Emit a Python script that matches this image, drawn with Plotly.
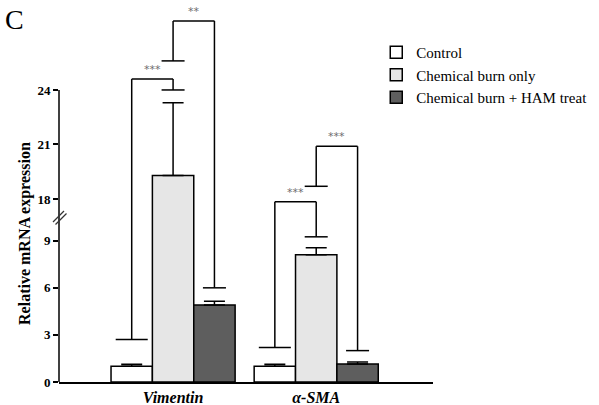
import plotly.graph_objects as go

# ---------------- data ----------------
genes = ["Vimentin", "α-SMA"]
groups = ["Control", "Chemical burn only", "Chemical burn + HAM treat"]
control_mean = [1.0, 1.0]
control_err = [0.13, 0.13]
burn_mean = [19.3, 8.1]
burn_err = [4.0, 0.45]
ham_mean = [4.9, 1.15]
ham_err = [0.25, 0.13]

lower_ticks = [0, 3, 6, 9]
upper_ticks = [18, 21, 24]

# significance brackets
bracket_gene = [0, 0, 1, 1]
bracket_left = [0, 1, 0, 1]        # group index of left leg
bracket_right = [1, 2, 1, 2]       # group index of right leg
bracket_left_end = [2.7, 25.6, 2.2, 18.7]
bracket_right_end = [24.0, 6.0, 9.25, 2.0]
bracket_top = [24.6, 27.8, 17.85, 20.9]
bracket_label = ["***", "**", "***", "***"]

# ---------------- styling / layout constants ----------------
means = [control_mean, burn_mean, ham_mean]
errs = [control_err, burn_err, ham_err]
fills = ["#ffffff", "#e6e6e6", "#5e5e5e"]
FONT = "Liberation Serif"

W, H = 599, 405
PL, PR, PT, PB = 59, 432.7, 10, 382   # plot area pixel edges
BREAK_PX = 215
LOW_RANGE = [0, 10.64]
UP_RANGE = [17.12, 28.40]
X_RANGE = [-0.797, 1.816]
BARGAP = 0.133
bw = (1 - BARGAP) / 3
PX_PER_X = (PR - PL) / (X_RANGE[1] - X_RANGE[0])
low_dom_top = (PB - BREAK_PX) / (PB - PT)


def bar_x(g, i):
    return g + (i - 1) * bw


def yref_for(v):
    return "y" if v <= LOW_RANGE[1] else "y2"


fig = go.Figure()
x_pos = list(range(len(genes)))
for i, name in enumerate(groups):
    for ax, show in (("y", True), ("y2", False)):
        fig.add_trace(go.Bar(
            x=x_pos, y=means[i], name=name, yaxis=ax, xaxis="x",
            showlegend=show, legendgroup=name,
            marker=dict(color=fills[i], line=dict(color="black", width=1.5)),
            error_y=dict(type="data", array=errs[i], arrayminus=[0] * len(genes),
                         symmetric=False, color="black", thickness=1.5, width=10.5),
        ))

shapes = []
line_style = dict(color="black", width=1.5)


def vseg(x, y0, y1):
    lo, hi = min(y0, y1), max(y0, y1)
    if hi <= LOW_RANGE[1]:
        shapes.append(dict(type="line", xref="x", yref="y", x0=x, x1=x, y0=lo, y1=hi, line=line_style))
    elif lo >= UP_RANGE[0]:
        shapes.append(dict(type="line", xref="x", yref="y2", x0=x, x1=x, y0=lo, y1=hi, line=line_style))
    else:
        shapes.append(dict(type="line", xref="x", yref="y", x0=x, x1=x, y0=lo, y1=LOW_RANGE[1], line=line_style))
        shapes.append(dict(type="line", xref="x", yref="y2", x0=x, x1=x, y0=UP_RANGE[0], y1=hi, line=line_style))


def hseg(x0, x1, y):
    shapes.append(dict(type="line", xref="x", yref=yref_for(y), x0=x0, x1=x1, y0=y, y1=y, line=line_style))


annotations = []
for k in range(len(bracket_label)):
    g = bracket_gene[k]
    xl = bar_x(g, bracket_left[k])
    xr = bar_x(g, bracket_right[k])
    top = bracket_top[k]
    hseg(xl, xr, top)
    vseg(xl, bracket_left_end[k], top)
    vseg(xr, bracket_right_end[k], top)
    for xx, yy, grp in ((xl, bracket_left_end[k], bracket_left[k]), (xr, bracket_right_end[k], bracket_right[k])):
        hw = (16 if grp == 0 else 11.5) / PX_PER_X
        hseg(xx - hw, xx + hw, yy)
    annotations.append(dict(x=(xl + xr) / 2, y=top, xref="x", yref=yref_for(top),
                            text=bracket_label[k], showarrow=False, xanchor="center",
                            yanchor="bottom", yshift=1,
                            font=dict(family="DejaVu Sans", size=11, color="#6e6e6e")))

# broken y axis lines
shapes.append(dict(type="line", xref="paper", yref="y", x0=0, x1=0, y0=0, y1=LOW_RANGE[1], line=line_style))
shapes.append(dict(type="line", xref="paper", yref="y2", x0=0, x1=0, y0=UP_RANGE[0], y1=upper_ticks[-1], line=line_style))


def px2paper(px, py):
    return (px - PL) / (PR - PL), (PB - py) / (PB - PT)


for dx in (0, 2.5):
    xa, ya = px2paper(53 + dx, 222 + dx)
    xb, yb = px2paper(64 + dx, 211 + dx)
    shapes.append(dict(type="line", xref="paper", yref="paper", x0=xa, y0=ya, x1=xb, y1=yb,
                       line=dict(color="#333333", width=1.2)))

cx, cy = px2paper(15, 20)
annotations.append(dict(x=cx, y=cy, xref="paper", yref="paper", text="C", showarrow=False,
                        xanchor="center", yanchor="middle",
                        font=dict(family=FONT, size=28, color="black")))
tx, ty = px2paper(25, 233)
annotations.append(dict(x=tx, y=ty, xref="paper", yref="paper", text="<b>Relative mRNA expression</b>",
                        textangle=-90, showarrow=False, xanchor="center", yanchor="middle",
                        font=dict(family=FONT, size=16, color="black")))

lx, ly = px2paper(376, 36)
fig.update_layout(
    width=W, height=H,
    margin=dict(l=PL, r=W - PR, t=PT, b=H - PB, autoexpand=False),
    paper_bgcolor="white", plot_bgcolor="white",
    barmode="group", bargap=BARGAP, bargroupgap=0,
    font=dict(family=FONT, color="black"),
    showlegend=True,
    legend=dict(x=lx, y=ly, xanchor="left", yanchor="top", bgcolor="rgba(0,0,0,0)",
                font=dict(family=FONT, size=15, color="black"), tracegroupgap=6,
                traceorder="normal"),
    xaxis=dict(range=X_RANGE, tickvals=x_pos, ticktext=["<b><i>%s</i></b>" % g for g in genes],
               showline=True, linecolor="black", linewidth=1.5, ticks="", showgrid=False,
               zeroline=False, tickfont=dict(family=FONT, size=16), automargin=False, anchor="y"),
    yaxis=dict(domain=[0, low_dom_top], range=LOW_RANGE, tickvals=lower_ticks, ticks="outside",
               ticklen=5, tickwidth=1.5, tickcolor="black", showline=False, showgrid=False,
               zeroline=False, tickfont=dict(family=FONT, size=13, weight="bold"), automargin=False),
    yaxis2=dict(domain=[low_dom_top, 1], range=UP_RANGE, tickvals=upper_ticks, ticks="outside",
                ticklen=5, tickwidth=1.5, tickcolor="black", showline=False, showgrid=False,
                zeroline=False, tickfont=dict(family=FONT, size=13, weight="bold"), automargin=False,
                anchor="x"),
    shapes=shapes, annotations=annotations,
)

fig.write_html("out.html", config={"displayModeBar": False},
               post_script="document.body.style.margin='0';document.body.style.padding='0';")
